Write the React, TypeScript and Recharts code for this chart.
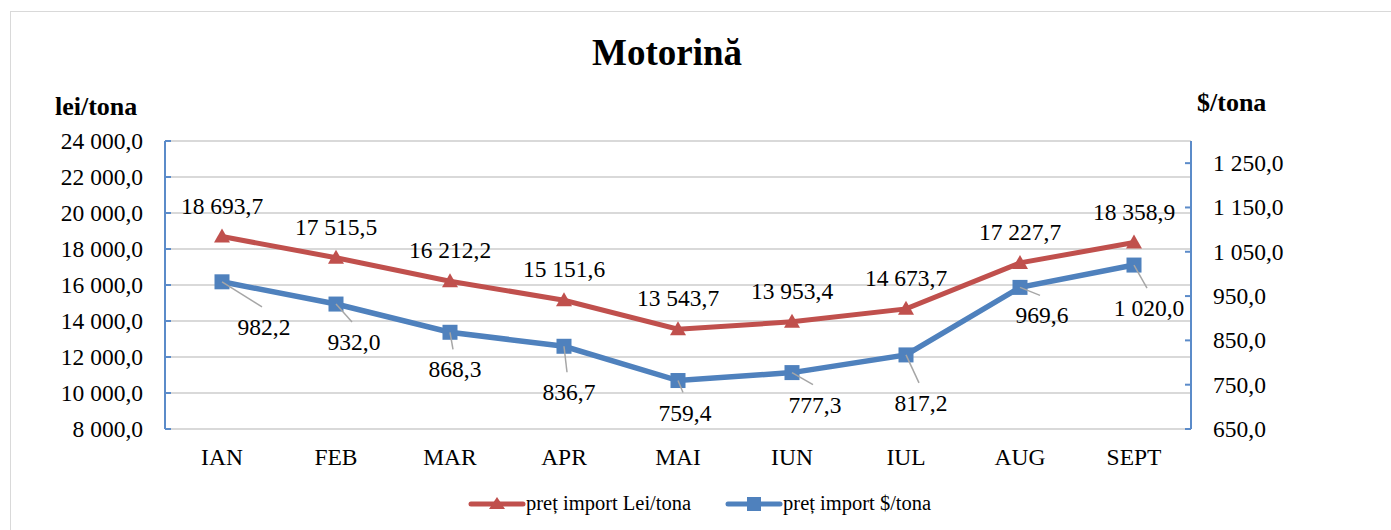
import React from "react";
import {
  CartesianGrid,
  LabelList,
  Legend,
  Line,
  LineChart,
  XAxis,
  YAxis,
} from "recharts";

const months = ["IAN", "FEB", "MAR", "APR", "MAI", "IUN", "IUL", "AUG", "SEPT"];
const leiValues = [18693.7, 17515.5, 16212.2, 15151.6, 13543.7, 13953.4, 14673.7, 17227.7, 18358.9];
const usdValues = [982.2, 932.0, 868.3, 836.7, 759.4, 777.3, 817.2, 969.6, 1020.0];
const leiTicks = [8000, 10000, 12000, 14000, 16000, 18000, 20000, 22000, 24000];
const usdTicks = [650, 750, 850, 950, 1050, 1150, 1250];

// where the $ labels sit relative to their point (Excel moved them by hand)
const usdLabelShift = [
  [42, 45], [18, 38], [5, 37], [5, 46], [7, 32], [23, 32], [15, 48], [22, 28], [15, 43],
];

const RED = "#c0504d";
const BLUE = "#4f81bd";
const AXIS_BLUE = "#5b8bc9";
const GRID = "#d9d9d9";
const FONT = '"Liberation Serif", "Times New Roman", serif';

const data = months.map((m, i) => ({ month: m, lei: leiValues[i], usd: usdValues[i] }));

function fmt(v: number) {
  const [i, d] = v.toFixed(1).split(".");
  return i.replace(/\B(?=(\d{3})+(?!\d))/g, " ") + "," + d;
}

function LeftTick({ x, y, payload }: any) {
  return (
    <g>
      <line x1={x} x2={x + 6} y1={y} y2={y} stroke={AXIS_BLUE} strokeWidth={2} />
      <text x={x - 22} y={y} textAnchor="end" dominantBaseline="central" fontSize={23.5} fontFamily={FONT} fill="#000">
        {fmt(payload.value)}
      </text>
    </g>
  );
}

function RightTick({ x, y, payload }: any) {
  return (
    <g>
      <line x1={x - 6} x2={x} y1={y} y2={y} stroke={AXIS_BLUE} strokeWidth={2} />
      <text x={x + 22} y={y} textAnchor="start" dominantBaseline="central" fontSize={23.5} fontFamily={FONT} fill="#000">
        {fmt(payload.value)}
      </text>
    </g>
  );
}

function MonthTick({ x, y, payload }: any) {
  return (
    <text x={x} y={y + 28} textAnchor="middle" dominantBaseline="central" fontSize={23.5} fontFamily={FONT} fill="#000">
      {payload.value}
    </text>
  );
}

function Triangle({ cx, cy, index }: any) {
  if (cx == null || cy == null) return null;
  return <polygon key={`t${index}`} points={`${cx},${cy - 8} ${cx - 8},${cy + 6} ${cx + 8},${cy + 6}`} fill={RED} />;
}

function Square({ cx, cy, index }: any) {
  if (cx == null || cy == null) return null;
  return <rect key={`s${index}`} x={cx - 7.5} y={cy - 7.5} width={15} height={15} fill={BLUE} />;
}

function LeiLabel({ x, y, value }: any) {
  return (
    <text x={x} y={y - 31} textAnchor="middle" dominantBaseline="central" fontSize={23.5} fontFamily={FONT} fill="#000">
      {fmt(value)}
    </text>
  );
}

function UsdLabel({ x, y, value, index }: any) {
  const [dx, dy] = usdLabelShift[index] || [15, 40];
  const lx = x + dx;
  const ly = y + dy;
  return (
    <g>
      <line x1={x} y1={y} x2={lx - 2} y2={ly - 20} stroke="#a6a6a6" strokeWidth={1.5} />
      <text x={lx} y={ly} textAnchor="middle" dominantBaseline="central" fontSize={23.5} fontFamily={FONT} fill="#000">
        {fmt(value)}
      </text>
    </g>
  );
}

function LegendBox() {
  const item = (color: string, marker: "tri" | "sq", label: string) => (
    <div style={{ display: "flex", alignItems: "center" }}>
      <svg width={58} height={20}>
        <line x1={3} x2={55} y1={10} y2={10} stroke={color} strokeWidth={5} strokeLinecap="round" />
        {marker === "tri" ? (
          <polygon points="29,3 21,15 37,15" fill={color} />
        ) : (
          <rect x={22} y={3} width={14} height={14} fill={color} />
        )}
      </svg>
      <span style={{ fontFamily: FONT, fontSize: 20.5, color: "#000" }}>{label}</span>
    </div>
  );
  return (
    <div style={{ display: "flex", gap: 34 }}>
      {item(RED, "tri", "preț import Lei/tona")}
      {item(BLUE, "sq", "preț import $/tona")}
    </div>
  );
}

export default function App() {
  return (
    <div style={{ position: "absolute", left: 0, top: 0, width: 1391, height: 530, overflow: "hidden", background: "#fff" }}>
      <div
        style={{
          position: "absolute",
          left: 10,
          top: 11,
          width: 1400,
          height: 540,
          border: `1.5px solid ${GRID}`,
        }}
      />
      <div style={{ position: "absolute", left: 0, top: 0 }}>
        <LineChart width={1391} height={530} data={data} margin={{ top: 141, right: 0, bottom: 51, left: 0 }}>
          <CartesianGrid yAxisId="left" vertical={false} stroke={GRID} strokeWidth={2} />
          <XAxis
            dataKey="month"
            axisLine={false}
            tickLine={false}
            tickSize={0}
            tickMargin={0}
            height={50}
            padding={{ left: 57, right: 57 }}
            tick={<MonthTick />}
            interval={0}
          />
          <YAxis
            yAxisId="left"
            orientation="left"
            width={165}
            domain={[8000, 24000]}
            ticks={leiTicks}
            interval={0}
            axisLine={{ stroke: AXIS_BLUE, strokeWidth: 2 }}
            tickLine={false}
            tickSize={0}
            tickMargin={0}
            tick={<LeftTick />}
          />
          <YAxis
            yAxisId="right"
            orientation="right"
            width={200}
            domain={[650, 1300]}
            ticks={usdTicks}
            interval={0}
            axisLine={{ stroke: AXIS_BLUE, strokeWidth: 2 }}
            tickLine={false}
            tickSize={0}
            tickMargin={0}
            tick={<RightTick />}
          />
          <Legend
            layout="horizontal"
            verticalAlign="middle"
            align="center"
            wrapperStyle={{ left: 468, top: 492, width: 500 }}
            content={<LegendBox />}
          />
          <Line
            yAxisId="left"
            type="linear"
            dataKey="lei"
            stroke={RED}
            strokeWidth={5}
            dot={<Triangle />}
            activeDot={false}
            isAnimationActive={false}
          >
            <LabelList dataKey="lei" content={<LeiLabel />} />
          </Line>
          <Line
            yAxisId="right"
            type="linear"
            dataKey="usd"
            stroke={BLUE}
            strokeWidth={5.5}
            dot={<Square />}
            activeDot={false}
            isAnimationActive={false}
          >
            <LabelList dataKey="usd" content={<UsdLabel />} />
          </Line>
        </LineChart>
      </div>
      <svg width={1391} height={530} style={{ position: "absolute", left: 0, top: 0, pointerEvents: "none" }}>
        <text x={667} y={65} textAnchor="middle" fontFamily={FONT} fontWeight="bold" fontSize={37} fill="#000">
          Motorină
        </text>
        <text x={55} y={115} fontFamily={FONT} fontWeight="bold" fontSize={26} fill="#000">
          lei/tona
        </text>
        <text x={1197} y={111} fontFamily={FONT} fontWeight="bold" fontSize={26} fill="#000">
          $/tona
        </text>
      </svg>
    </div>
  );
}
